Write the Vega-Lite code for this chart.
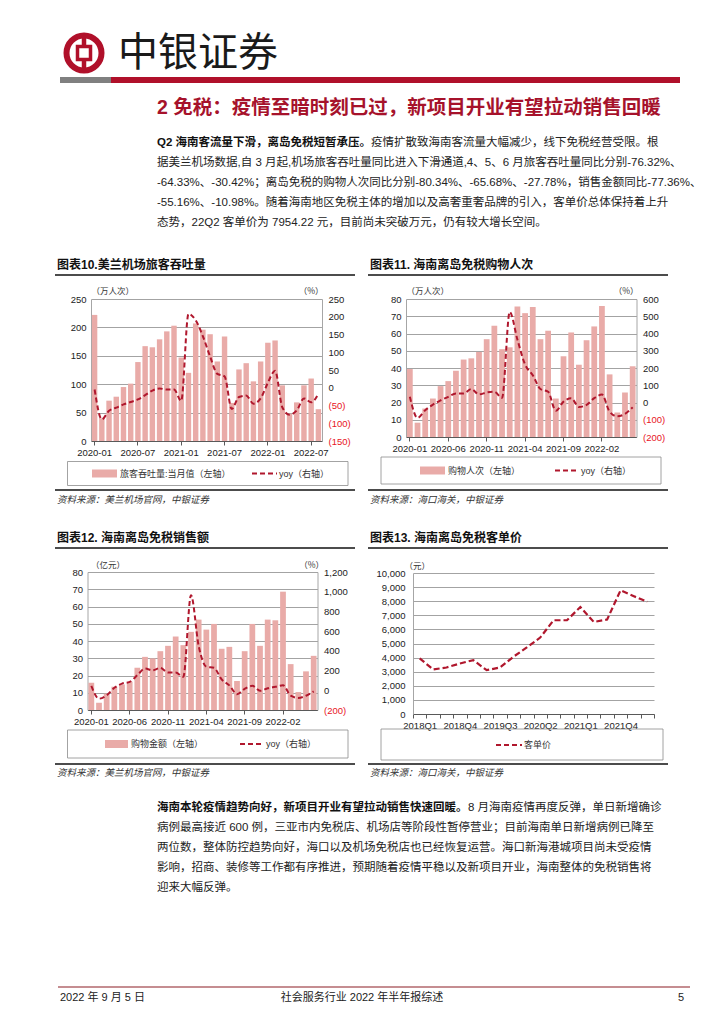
{
"$schema": "https://vega.github.io/schema/vega-lite/v6.json",
"width": 725, "height": 1024, "autosize": {"type": "none"}, "padding": 0, "background": "white",
"config": {
 "view": {"stroke": null},
 "font": "Liberation Sans, Noto Sans CJK SC",
 "text": {"font": "Liberation Sans, Noto Sans CJK SC", "color": "#222222"},
 "axis": {"labelFont": "Liberation Sans", "labelFontSize": 9.5, "labelColor": "#222222", "titleFont": "Noto Sans CJK SC", "titleFontSize": 8.5, "titleFontWeight": "normal", "titleColor": "#333333", "domainColor": "#a6a6a6", "tickColor": "#595959", "gridColor": "#8c8c8c", "gridWidth": 0.8}
},
"datasets": {
 "c10": [
  {"m":"2020-01","v":222,"yoy":-5},{"m":"2020-02","v":40,"yoy":-89},{"m":"2020-03","v":71,"yoy":-65},{"m":"2020-04","v":78,"yoy":-56},
  {"m":"2020-05","v":95,"yoy":-47},{"m":"2020-06","v":101,"yoy":-40},{"m":"2020-07","v":139,"yoy":-33},{"m":"2020-08","v":167,"yoy":-21},
  {"m":"2020-09","v":165,"yoy":-8},{"m":"2020-10","v":179,"yoy":-2},{"m":"2020-11","v":193,"yoy":-5},{"m":"2020-12","v":203,"yoy":-5},
  {"m":"2021-01","v":147,"yoy":-37},{"m":"2021-02","v":120,"yoy":208},{"m":"2021-03","v":207,"yoy":190},{"m":"2021-04","v":196,"yoy":145},
  {"m":"2021-05","v":188,"yoy":88},{"m":"2021-06","v":140,"yoy":39},{"m":"2021-07","v":184,"yoy":32},{"m":"2021-08","v":67,"yoy":-60},
  {"m":"2021-09","v":126,"yoy":-26},{"m":"2021-10","v":137,"yoy":-22},{"m":"2021-11","v":105,"yoy":-45},{"m":"2021-12","v":140,"yoy":-30},
  {"m":"2022-01","v":173,"yoy":14},{"m":"2022-02","v":177,"yoy":48},{"m":"2022-03","v":98,"yoy":-55},{"m":"2022-04","v":48,"yoy":-76},
  {"m":"2022-05","v":68,"yoy":-64},{"m":"2022-06","v":98,"yoy":-30},{"m":"2022-07","v":110,"yoy":-41},{"m":"2022-08","v":56,"yoy":-17}
 ],
 "c11": [
  {"m":"2020-01","v":39.4,"yoy":33},{"m":"2020-02","v":8.3,"yoy":-89},{"m":"2020-03","v":16.5,"yoy":-45},{"m":"2020-04","v":22.3,"yoy":-12},
  {"m":"2020-05","v":29.5,"yoy":12},{"m":"2020-06","v":32.4,"yoy":33},{"m":"2020-07","v":38.4,"yoy":52},{"m":"2020-08","v":44.9,"yoy":52},
  {"m":"2020-09","v":45.6,"yoy":78},{"m":"2020-10","v":49.3,"yoy":47},{"m":"2020-11","v":56.7,"yoy":58},{"m":"2020-12","v":64.5,"yoy":62},
  {"m":"2021-01","v":50.9,"yoy":27},{"m":"2021-02","v":52.0,"yoy":525},{"m":"2021-03","v":75.7,"yoy":365},{"m":"2021-04","v":71.8,"yoy":220},
  {"m":"2021-05","v":75.3,"yoy":158},{"m":"2021-06","v":56.7,"yoy":78},{"m":"2021-07","v":61.6,"yoy":62},{"m":"2021-08","v":22.3,"yoy":-48},
  {"m":"2021-09","v":46.8,"yoy":5},{"m":"2021-10","v":60.6,"yoy":25},{"m":"2021-11","v":41.9,"yoy":-26},{"m":"2021-12","v":56.1,"yoy":-14},
  {"m":"2022-01","v":64.1,"yoy":25},{"m":"2022-02","v":75.9,"yoy":46},{"m":"2022-03","v":36.3,"yoy":-53},{"m":"2022-04","v":14.2,"yoy":-80},
  {"m":"2022-05","v":25.8,"yoy":-66},{"m":"2022-06","v":41.0,"yoy":-28}
 ],
 "c12": [
  {"m":"2020-01","v":15.8,"yoy":44},{"m":"2020-02","v":4.2,"yoy":-85},{"m":"2020-03","v":9.5,"yoy":-51},{"m":"2020-04","v":13.5,"yoy":25},
  {"m":"2020-05","v":14.8,"yoy":68},{"m":"2020-06","v":16.4,"yoy":85},{"m":"2020-07","v":24.5,"yoy":153},{"m":"2020-08","v":30.8,"yoy":220},
  {"m":"2020-09","v":29.9,"yoy":203},{"m":"2020-10","v":34.1,"yoy":227},{"m":"2020-11","v":37.2,"yoy":180},{"m":"2020-12","v":42.6,"yoy":180},
  {"m":"2021-01","v":37.6,"yoy":137},{"m":"2021-02","v":45.3,"yoy":965},{"m":"2021-03","v":52.4,"yoy":450},{"m":"2021-04","v":46.6,"yoy":240},
  {"m":"2021-05","v":49.9,"yoy":228},{"m":"2021-06","v":35.5,"yoy":110},{"m":"2021-07","v":36.6,"yoy":50},{"m":"2021-08","v":16.8,"yoy":-40},
  {"m":"2021-09","v":34.1,"yoy":15},{"m":"2021-10","v":49.9,"yoy":45},{"m":"2021-11","v":37.2,"yoy":-5},{"m":"2021-12","v":52.4,"yoy":20},
  {"m":"2022-01","v":52.0,"yoy":35},{"m":"2022-02","v":68.6,"yoy":51},{"m":"2022-03","v":26.6,"yoy":-55},{"m":"2022-04","v":10.4,"yoy":-77},
  {"m":"2022-05","v":22.4,"yoy":-55},{"m":"2022-06","v":31.4,"yoy":-11}
 ],
 "c13": [
  {"q":"2018Q1","p":3950},{"q":"2018Q2","p":3160},{"q":"2018Q3","p":3300},{"q":"2018Q4","p":3580},{"q":"2019Q1","p":3820},{"q":"2019Q2","p":3110},
  {"q":"2019Q3","p":3300},{"q":"2019Q4","p":4060},{"q":"2020Q1","p":4720},{"q":"2020Q2","p":5420},{"q":"2020Q3","p":6650},{"q":"2020Q4","p":6650},
  {"q":"2021Q1","p":7590},{"q":"2021Q2","p":6530},{"q":"2021Q3","p":6700},{"q":"2021Q4","p":8770},{"q":"2022Q1","p":8350},{"q":"2022Q2","p":7954}
 ]
},
"layer": [
 {"data": {"values": [{}]}, "mark": {"type": "point", "shape": "circle", "filled": false, "stroke": "#B0102A", "strokeWidth": 6, "size": 1225, "opacity": 1}, "encoding": {"x": {"value": 84}, "y": {"value": 53}}},
 {"data": {"values": [{}]}, "mark": {"type": "rule", "color": "#B0102A", "strokeWidth": 4.5}, "encoding": {"x": {"value": 84}, "y": {"value": 36}, "y2": {"value": 70}}},
 {"data": {"values": [{}]}, "mark": {"type": "point", "shape": "square", "filled": true, "fill": "white", "stroke": "#B0102A", "strokeWidth": 3.5, "size": 169, "opacity": 1}, "encoding": {"x": {"value": 84}, "y": {"value": 53}}},
 {"data": {"values": [{"t": "中银证券"}]}, "mark": {"type": "text", "align": "left", "baseline": "middle", "fontSize": 40, "font": "Noto Sans CJK SC", "color": "#1a1a1a"}, "encoding": {"text": {"field": "t"}, "x": {"value": 118}, "y": {"value": 54}}},
 {"data": {"values": [{}]}, "mark": {"type": "rect", "color": "#808080"}, "encoding": {"x": {"value": 60}, "x2": {"value": 111}, "y": {"value": 77}, "y2": {"value": 83}}},
 {"data": {"values": [{}]}, "mark": {"type": "rect", "color": "#B0102A"}, "encoding": {"x": {"value": 111}, "x2": {"value": 680}, "y": {"value": 77}, "y2": {"value": 83}}},
 {"data": {"values": [{"t": "2 免税：疫情至暗时刻已过，新项目开业有望拉动销售回暖"}]}, "mark": {"type": "text", "align": "left", "baseline": "middle", "fontSize": 19.5, "fontWeight": "bold", "color": "#A6122B"}, "encoding": {"text": {"field": "t"}, "x": {"value": 157}, "y": {"value": 108}}},

 {"data": {"values": [{"t": "Q2 海南客流量下滑，离岛免税短暂承压。"}]}, "mark": {"type": "text", "align": "left", "baseline": "middle", "fontSize": 11.5, "fontWeight": "bold", "color": "#111111"}, "encoding": {"text": {"field": "t"}, "x": {"value": 157}, "y": {"value": 143}}},
 {"data": {"values": [{"t": "疫情扩散致海南客流量大幅减少，线下免税经营受限。根"}]}, "mark": {"type": "text", "align": "left", "baseline": "middle", "fontSize": 11.5, "color": "#222222"}, "encoding": {"text": {"field": "t"}, "x": {"value": 371}, "y": {"value": 143}}},
 {"data": {"values": [
   {"line": 2, "t": "据美兰机场数据,自 3 月起,机场旅客吞吐量同比进入下滑通道,4、5、6 月旅客吞吐量同比分别-76.32%、"},
   {"line": 3, "t": "-64.33%、-30.42%；离岛免税的购物人次同比分别-80.34%、-65.68%、-27.78%，销售金额同比-77.36%、"},
   {"line": 4, "t": "-55.16%、-10.98%。随着海南地区免税主体的增加以及高奢重奢品牌的引入，客单价总体保持着上升"},
   {"line": 5, "t": "态势，22Q2 客单价为 7954.22 元，目前尚未突破万元，仍有较大增长空间。"}]},
  "mark": {"type": "text", "align": "left", "baseline": "middle", "fontSize": 11.5, "color": "#222222"},
  "encoding": {"text": {"field": "t"}, "x": {"value": 157}, "y": {"field": "line", "type": "ordinal", "scale": {"type": "point", "range": [163, 223], "padding": 0}, "axis": null}}},

 {"data": {"values": [{"t": "图表10.美兰机场旅客吞吐量"}]}, "mark": {"type": "text", "align": "left", "baseline": "middle", "fontSize": 12, "fontWeight": "bold", "color": "#111111"}, "encoding": {"text": {"field": "t"}, "x": {"value": 57}, "y": {"value": 265}}},
 {"data": {"values": [{"t": "图表11. 海南离岛免税购物人次"}]}, "mark": {"type": "text", "align": "left", "baseline": "middle", "fontSize": 12, "fontWeight": "bold", "color": "#111111"}, "encoding": {"text": {"field": "t"}, "x": {"value": 370}, "y": {"value": 265}}},
 {"data": {"values": [{"t": "图表12. 海南离岛免税销售额"}]}, "mark": {"type": "text", "align": "left", "baseline": "middle", "fontSize": 12, "fontWeight": "bold", "color": "#111111"}, "encoding": {"text": {"field": "t"}, "x": {"value": 57}, "y": {"value": 538}}},
 {"data": {"values": [{"t": "图表13. 海南离岛免税客单价"}]}, "mark": {"type": "text", "align": "left", "baseline": "middle", "fontSize": 12, "fontWeight": "bold", "color": "#111111"}, "encoding": {"text": {"field": "t"}, "x": {"value": 370}, "y": {"value": 538}}},
 {"data": {"values": [{}]}, "mark": {"type": "rule", "color": "#111111", "strokeWidth": 1.5}, "encoding": {"x": {"value": 55}, "x2": {"value": 355}, "y": {"value": 275}}},
 {"data": {"values": [{}]}, "mark": {"type": "rule", "color": "#111111", "strokeWidth": 1.5}, "encoding": {"x": {"value": 368}, "x2": {"value": 668}, "y": {"value": 275}}},
 {"data": {"values": [{}]}, "mark": {"type": "rule", "color": "#111111", "strokeWidth": 1.5}, "encoding": {"x": {"value": 55}, "x2": {"value": 355}, "y": {"value": 548}}},
 {"data": {"values": [{}]}, "mark": {"type": "rule", "color": "#111111", "strokeWidth": 1.5}, "encoding": {"x": {"value": 368}, "x2": {"value": 668}, "y": {"value": 548}}},
 {"data": {"values": [{}]}, "mark": {"type": "rule", "color": "#111111", "strokeWidth": 1.5}, "encoding": {"x": {"value": 55}, "x2": {"value": 355}, "y": {"value": 490}}},
 {"data": {"values": [{}]}, "mark": {"type": "rule", "color": "#111111", "strokeWidth": 1.5}, "encoding": {"x": {"value": 368}, "x2": {"value": 668}, "y": {"value": 490}}},
 {"data": {"values": [{}]}, "mark": {"type": "rule", "color": "#111111", "strokeWidth": 1.5}, "encoding": {"x": {"value": 55}, "x2": {"value": 355}, "y": {"value": 764}}},
 {"data": {"values": [{}]}, "mark": {"type": "rule", "color": "#111111", "strokeWidth": 1.5}, "encoding": {"x": {"value": 368}, "x2": {"value": 668}, "y": {"value": 764}}},
 {"data": {"values": [{"t": "资料来源：美兰机场官网，中银证券"}]}, "mark": {"type": "text", "align": "left", "baseline": "middle", "fontSize": 9.5, "fontStyle": "italic", "color": "#333333"}, "encoding": {"text": {"field": "t"}, "x": {"value": 57}, "y": {"value": 500}}},
 {"data": {"values": [{"t": "资料来源：海口海关，中银证券"}]}, "mark": {"type": "text", "align": "left", "baseline": "middle", "fontSize": 9.5, "fontStyle": "italic", "color": "#333333"}, "encoding": {"text": {"field": "t"}, "x": {"value": 370}, "y": {"value": 500}}},
 {"data": {"values": [{"t": "资料来源：美兰机场官网，中银证券"}]}, "mark": {"type": "text", "align": "left", "baseline": "middle", "fontSize": 9.5, "fontStyle": "italic", "color": "#333333"}, "encoding": {"text": {"field": "t"}, "x": {"value": 57}, "y": {"value": 773}}},
 {"data": {"values": [{"t": "资料来源：海口海关，中银证券"}]}, "mark": {"type": "text", "align": "left", "baseline": "middle", "fontSize": 9.5, "fontStyle": "italic", "color": "#333333"}, "encoding": {"text": {"field": "t"}, "x": {"value": 370}, "y": {"value": 773}}},

 {"data": {"values": [{}]}, "mark": {"type": "rect", "fill": "transparent", "stroke": "#8c8c8c", "strokeWidth": 0.8}, "encoding": {"x": {"value": 67.5}, "x2": {"value": 348}, "y": {"value": 461.5}, "y2": {"value": 485.5}}},
 {"data": {"values": [{}]}, "mark": {"type": "rect", "color": "#E9ABA8"}, "encoding": {"x": {"value": 92}, "x2": {"value": 117}, "y": {"value": 469.5}, "y2": {"value": 477.5}}},
 {"data": {"values": [{"t": "旅客吞吐量:当月值（左轴）"}]}, "mark": {"type": "text", "align": "left", "baseline": "middle", "fontSize": 9, "color": "#333333"}, "encoding": {"text": {"field": "t"}, "x": {"value": 120}, "y": {"value": 473.5}}},
 {"data": {"values": [{}]}, "mark": {"type": "rule", "color": "#B0172D", "strokeWidth": 2, "strokeDash": [5, 3]}, "encoding": {"x": {"value": 252}, "x2": {"value": 277}, "y": {"value": 473.5}}},
 {"data": {"values": [{"t": "yoy（右轴）"}]}, "mark": {"type": "text", "align": "left", "baseline": "middle", "fontSize": 9, "color": "#333333"}, "encoding": {"text": {"field": "t"}, "x": {"value": 279}, "y": {"value": 473.5}}},

 {"data": {"values": [{}]}, "mark": {"type": "rect", "fill": "transparent", "stroke": "#8c8c8c", "strokeWidth": 0.8}, "encoding": {"x": {"value": 381}, "x2": {"value": 661}, "y": {"value": 457}, "y2": {"value": 484}}},
 {"data": {"values": [{}]}, "mark": {"type": "rect", "color": "#E9ABA8"}, "encoding": {"x": {"value": 420}, "x2": {"value": 445}, "y": {"value": 466.5}, "y2": {"value": 474.5}}},
 {"data": {"values": [{"t": "购物人次（左轴）"}]}, "mark": {"type": "text", "align": "left", "baseline": "middle", "fontSize": 9, "color": "#333333"}, "encoding": {"text": {"field": "t"}, "x": {"value": 448}, "y": {"value": 470.5}}},
 {"data": {"values": [{}]}, "mark": {"type": "rule", "color": "#B0172D", "strokeWidth": 2, "strokeDash": [5, 3]}, "encoding": {"x": {"value": 555}, "x2": {"value": 579}, "y": {"value": 470.5}}},
 {"data": {"values": [{"t": "yoy（右轴）"}]}, "mark": {"type": "text", "align": "left", "baseline": "middle", "fontSize": 9, "color": "#333333"}, "encoding": {"text": {"field": "t"}, "x": {"value": 581}, "y": {"value": 470.5}}},

 {"data": {"values": [{}]}, "mark": {"type": "rect", "fill": "transparent", "stroke": "#8c8c8c", "strokeWidth": 0.8}, "encoding": {"x": {"value": 67.5}, "x2": {"value": 348}, "y": {"value": 730}, "y2": {"value": 758}}},
 {"data": {"values": [{}]}, "mark": {"type": "rect", "color": "#E9ABA8"}, "encoding": {"x": {"value": 105}, "x2": {"value": 128}, "y": {"value": 740}, "y2": {"value": 748}}},
 {"data": {"values": [{"t": "购物金额（左轴）"}]}, "mark": {"type": "text", "align": "left", "baseline": "middle", "fontSize": 9, "color": "#333333"}, "encoding": {"text": {"field": "t"}, "x": {"value": 131}, "y": {"value": 744}}},
 {"data": {"values": [{}]}, "mark": {"type": "rule", "color": "#B0172D", "strokeWidth": 2, "strokeDash": [5, 3]}, "encoding": {"x": {"value": 240}, "x2": {"value": 264}, "y": {"value": 744}}},
 {"data": {"values": [{"t": "yoy（右轴）"}]}, "mark": {"type": "text", "align": "left", "baseline": "middle", "fontSize": 9, "color": "#333333"}, "encoding": {"text": {"field": "t"}, "x": {"value": 266}, "y": {"value": 744}}},

 {"data": {"values": [{}]}, "mark": {"type": "rect", "fill": "transparent", "stroke": "#8c8c8c", "strokeWidth": 0.8}, "encoding": {"x": {"value": 381}, "x2": {"value": 663}, "y": {"value": 729}, "y2": {"value": 760}}},
 {"data": {"values": [{}]}, "mark": {"type": "rule", "color": "#B0172D", "strokeWidth": 2, "strokeDash": [5, 3]}, "encoding": {"x": {"value": 496}, "x2": {"value": 522}, "y": {"value": 745}}},
 {"data": {"values": [{"t": "客单价"}]}, "mark": {"type": "text", "align": "left", "baseline": "middle", "fontSize": 9, "color": "#333333"}, "encoding": {"text": {"field": "t"}, "x": {"value": 524}, "y": {"value": 745}}},

 {"data": {"name": "c10"},
  "layer": [
   {"mark": {"type": "bar", "color": "#E9ABA8"},
    "encoding": {
     "x": {"field": "m", "type": "ordinal", "scale": {"type": "band", "range": [91, 322], "paddingInner": 0.25, "paddingOuter": 0.125},
       "axis": {"orient": "bottom", "offset": -583, "values": ["2020-01","2020-07","2021-01","2021-07","2022-01","2022-07"], "labelAngle": 0, "title": null, "domainColor": "#595959", "ticks": true, "tickSize": 4, "labelPadding": 2, "grid": false}},
     "y": {"field": "v", "type": "quantitative", "scale": {"domain": [0, 250], "range": [441, 299], "nice": false, "zero": false},
       "axis": {"orient": "left", "offset": -91, "values": [0,50,100,150,200,250], "grid": true, "ticks": false, "labelPadding": 5, "title": "（万人次）", "titleAngle": 0, "titleX": 0, "titleY": 290, "titleAlign": "left", "titleBaseline": "middle"}}
    }},
   {"mark": {"type": "line", "color": "#B0172D", "strokeWidth": 2, "strokeDash": [5, 3], "interpolate": "monotone"},
    "encoding": {
     "x": {"field": "m", "type": "ordinal", "bandPosition": 0.5, "scale": {"type": "band", "range": [91, 322], "paddingInner": 0.25, "paddingOuter": 0.125},
       "axis": {"orient": "bottom", "offset": -583, "values": ["2020-01","2020-07","2021-01","2021-07","2022-01","2022-07"], "labelAngle": 0, "title": null, "domainColor": "#595959", "ticks": true, "tickSize": 4, "labelPadding": 2, "grid": false}},
     "y": {"field": "yoy", "type": "quantitative", "scale": {"domain": [-150, 250], "range": [441, 299], "nice": false, "zero": false},
       "axis": {"orient": "right", "offset": -403, "values": [-150,-100,-50,0,50,100,150,200,250], "grid": false, "ticks": false, "labelPadding": 6,
         "labelExpr": "datum.value < 0 ? '(' + format(-datum.value, ',') + ')' : format(datum.value, ',')",
         "labelColor": {"condition": {"test": "datum.value < 0", "value": "#E8141E"}, "value": "#222222"},
         "title": "（%）", "titleAngle": 0, "titleX": 1, "titleY": 290, "titleAlign": "right", "titleBaseline": "middle"}}
    }}
  ],
  "resolve": {"scale": {"y": "independent"}, "axis": {"y": "independent"}}
 },

 {"data": {"name": "c11"},
  "layer": [
   {"mark": {"type": "bar", "color": "#E9ABA8"},
    "encoding": {
     "x": {"field": "m", "type": "ordinal", "scale": {"type": "band", "range": [406, 636.5], "paddingInner": 0.25, "paddingOuter": 0.125},
       "axis": {"orient": "bottom", "offset": -587, "values": ["2020-01","2020-06","2020-11","2021-04","2021-09","2022-02"], "labelAngle": 0, "title": null, "domainColor": "#595959", "ticks": true, "tickSize": 4, "labelPadding": 2, "grid": false}},
     "y": {"field": "v", "type": "quantitative", "scale": {"domain": [0, 80], "range": [437, 299], "nice": false, "zero": false},
       "axis": {"orient": "left", "offset": -406, "values": [0,10,20,30,40,50,60,70,80], "grid": true, "ticks": false, "labelPadding": 5, "title": "（万人次）", "titleAngle": 0, "titleX": 0, "titleY": 290, "titleAlign": "left", "titleBaseline": "middle"}}
    }},
   {"mark": {"type": "line", "color": "#B0172D", "strokeWidth": 2, "strokeDash": [5, 3], "interpolate": "monotone"},
    "encoding": {
     "x": {"field": "m", "type": "ordinal", "bandPosition": 0.5, "scale": {"type": "band", "range": [406, 636.5], "paddingInner": 0.25, "paddingOuter": 0.125},
       "axis": {"orient": "bottom", "offset": -587, "values": ["2020-01","2020-06","2020-11","2021-04","2021-09","2022-02"], "labelAngle": 0, "title": null, "domainColor": "#595959", "ticks": true, "tickSize": 4, "labelPadding": 2, "grid": false}},
     "y": {"field": "yoy", "type": "quantitative", "scale": {"domain": [-200, 600], "range": [437, 299], "nice": false, "zero": false},
       "axis": {"orient": "right", "offset": -88.5, "values": [-200,-100,0,100,200,300,400,500,600], "grid": false, "ticks": false, "labelPadding": 6,
         "labelExpr": "datum.value < 0 ? '(' + format(-datum.value, ',') + ')' : format(datum.value, ',')",
         "labelColor": {"condition": {"test": "datum.value < 0", "value": "#E8141E"}, "value": "#222222"},
         "title": "（%）", "titleAngle": 0, "titleX": 1.5, "titleY": 290, "titleAlign": "right", "titleBaseline": "middle"}}
    }}
  ],
  "resolve": {"scale": {"y": "independent"}, "axis": {"y": "independent"}}
 },

 {"data": {"name": "c12"},
  "layer": [
   {"mark": {"type": "bar", "color": "#E9ABA8"},
    "encoding": {
     "x": {"field": "m", "type": "ordinal", "scale": {"type": "band", "range": [87.5, 317.5], "paddingInner": 0.25, "paddingOuter": 0.125},
       "axis": {"orient": "bottom", "offset": -314, "values": ["2020-01","2020-06","2020-11","2021-04","2021-09","2022-02"], "labelAngle": 0, "title": null, "domainColor": "#595959", "ticks": true, "tickSize": 4, "labelPadding": 2, "grid": false}},
     "y": {"field": "v", "type": "quantitative", "scale": {"domain": [0, 80], "range": [710, 572], "nice": false, "zero": false},
       "axis": {"orient": "left", "offset": -87.5, "values": [0,10,20,30,40,50,60,70,80], "grid": true, "ticks": false, "labelPadding": 5, "title": "（亿元）", "titleAngle": 0, "titleX": 3, "titleY": 564, "titleAlign": "left", "titleBaseline": "middle"}}
    }},
   {"mark": {"type": "line", "color": "#B0172D", "strokeWidth": 2, "strokeDash": [5, 3], "interpolate": "monotone"},
    "encoding": {
     "x": {"field": "m", "type": "ordinal", "bandPosition": 0.5, "scale": {"type": "band", "range": [87.5, 317.5], "paddingInner": 0.25, "paddingOuter": 0.125},
       "axis": {"orient": "bottom", "offset": -314, "values": ["2020-01","2020-06","2020-11","2021-04","2021-09","2022-02"], "labelAngle": 0, "title": null, "domainColor": "#595959", "ticks": true, "tickSize": 4, "labelPadding": 2, "grid": false}},
     "y": {"field": "yoy", "type": "quantitative", "scale": {"domain": [-200, 1200], "range": [710, 572], "nice": false, "zero": false},
       "axis": {"orient": "right", "offset": -407.5, "values": [-200,0,200,400,600,800,1000,1200], "grid": false, "ticks": false, "labelPadding": 6,
         "labelExpr": "datum.value < 0 ? '(' + format(-datum.value, ',') + ')' : format(datum.value, ',')",
         "labelColor": {"condition": {"test": "datum.value < 0", "value": "#E8141E"}, "value": "#222222"},
         "title": "（%）", "titleAngle": 0, "titleX": 6, "titleY": 564, "titleAlign": "right", "titleBaseline": "middle"}}
    }}
  ],
  "resolve": {"scale": {"y": "independent"}, "axis": {"y": "independent"}}
 },

 {"data": {"name": "c13"},
  "mark": {"type": "line", "color": "#B0172D", "strokeWidth": 2.2, "strokeDash": [6, 3]},
  "encoding": {
   "x": {"field": "q", "type": "ordinal", "bandPosition": 0.5, "scale": {"type": "band", "range": [413, 654], "paddingInner": 0, "paddingOuter": 0},
     "axis": {"orient": "bottom", "offset": -310, "labelExpr": "indexof(['2018Q1','2018Q4','2019Q3','2020Q2','2021Q1','2021Q4'], datum.value) >= 0 ? datum.value : ''", "labelOverlap": false, "tickBand": "extent", "labelAngle": 0, "title": null, "domainColor": "#595959", "ticks": true, "tickSize": 4, "labelPadding": 2, "grid": false}},
   "y": {"field": "p", "type": "quantitative", "scale": {"domain": [0, 10000], "range": [714, 573], "nice": false, "zero": false},
     "axis": {"orient": "left", "offset": -413, "values": [0,1000,2000,3000,4000,5000,6000,7000,8000,9000,10000], "labelExpr": "format(datum.value, ',')", "grid": true, "ticks": false, "labelPadding": 8, "title": "（元）", "titleAngle": 0, "titleX": -9, "titleY": 565, "titleAlign": "left", "titleBaseline": "middle"}}
  }
 },

 {"data": {"values": [{"t": "海南本轮疫情趋势向好，新项目开业有望拉动销售快速回暖。"}]}, "mark": {"type": "text", "align": "left", "baseline": "middle", "fontSize": 11.5, "fontWeight": "bold", "color": "#111111"}, "encoding": {"text": {"field": "t"}, "x": {"value": 157}, "y": {"value": 808}}},
 {"data": {"values": [{"t": "8 月海南疫情再度反弹，单日新增确诊"}]}, "mark": {"type": "text", "align": "left", "baseline": "middle", "fontSize": 11.5, "color": "#222222"}, "encoding": {"text": {"field": "t"}, "x": {"value": 468}, "y": {"value": 808}}},
 {"data": {"values": [
   {"line": 2, "t": "病例最高接近 600 例，三亚市内免税店、机场店等阶段性暂停营业；目前海南单日新增病例已降至"},
   {"line": 3, "t": "两位数，整体防控趋势向好，海口以及机场免税店也已经恢复运营。海口新海港城项目尚未受疫情"},
   {"line": 4, "t": "影响，招商、装修等工作都有序推进，预期随着疫情平稳以及新项目开业，海南整体的免税销售将"},
   {"line": 5, "t": "迎来大幅反弹。"}]},
  "mark": {"type": "text", "align": "left", "baseline": "middle", "fontSize": 11.5, "color": "#222222"},
  "encoding": {"text": {"field": "t"}, "x": {"value": 157}, "y": {"field": "line", "type": "ordinal", "scale": {"type": "point", "range": [828, 888], "padding": 0}, "axis": null}}},

 {"data": {"values": [{}]}, "mark": {"type": "rule", "color": "#8B1C24", "strokeWidth": 1.2}, "encoding": {"x": {"value": 58}, "x2": {"value": 690}, "y": {"value": 987}}},
 {"data": {"values": [{"t": "2022 年 9 月 5 日"}]}, "mark": {"type": "text", "align": "left", "baseline": "middle", "fontSize": 11, "color": "#222222"}, "encoding": {"text": {"field": "t"}, "x": {"value": 60}, "y": {"value": 998}}},
 {"data": {"values": [{"t": "社会服务行业 2022 年半年报综述"}]}, "mark": {"type": "text", "align": "center", "baseline": "middle", "fontSize": 11, "color": "#222222"}, "encoding": {"text": {"field": "t"}, "x": {"value": 362}, "y": {"value": 998}}},
 {"data": {"values": [{"t": "5"}]}, "mark": {"type": "text", "align": "right", "baseline": "middle", "fontSize": 11, "color": "#222222"}, "encoding": {"text": {"field": "t"}, "x": {"value": 684}, "y": {"value": 998}}}
],
"resolve": {"scale": {"x": "independent", "y": "independent"}, "axis": {"x": "independent", "y": "independent"}}
}
